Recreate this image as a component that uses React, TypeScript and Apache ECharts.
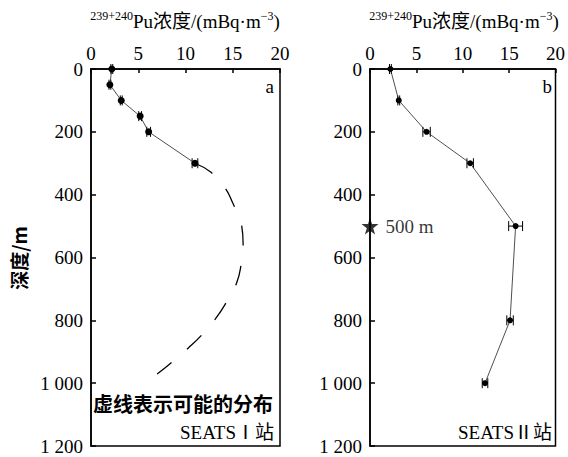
import React, { useEffect, useRef } from "react";
import * as echarts from "echarts";

// Panel a (SEATS I)
const depthsA = [0, 50, 100, 150, 200, 300];
const concA = [2.2, 2.0, 3.2, 5.2, 6.1, 11.0];
const errA = [0.1, 0.1, 0.1, 0.15, 0.2, 0.3];
// Possible distribution (dashed) in panel a
const dashDepthA = [300, 329, 375, 433, 491, 560, 619, 682, 741, 794, 844, 888, 932, 971];
const dashConcA = [11.0, 12.7, 14.1, 15.1, 15.9, 16.1, 15.9, 15.4, 14.35, 13.2, 11.8, 10.3, 8.6, 7.0];

// Panel b (SEATS II)
const depthsB = [0, 100, 200, 300, 500, 800, 1000];
const concB = [2.2, 3.1, 6.1, 10.8, 15.7, 15.1, 12.4];
const errB = [0.1, 0.1, 0.4, 0.35, 0.75, 0.35, 0.3];

const starDepth = 500;
const xTicks = [0, 5, 10, 15, 20];
const yTicks = [0, 200, 400, 600, 800, 1000, 1200];

const SERIF = "'Liberation Serif', 'Times New Roman', 'Noto Sans CJK SC', serif";
const CJK = "'Noto Sans CJK SC', sans-serif";

const STAR = "path://M50,0 L61,35 L98,35 L68,57 L79,91 L50,70 L21,91 L32,57 L2,35 L39,35 Z";

function fmtY(v: number) {
  if (v >= 1000) {
    const s = String(v);
    return s.slice(0, s.length - 3) + " " + s.slice(s.length - 3);
  }
  return String(v);
}

function errRender(params: any, api: any) {
  const x = api.value(0);
  const y = api.value(1);
  const e = api.value(2);
  const p1 = api.coord([x - e, y]);
  const p2 = api.coord([x + e, y]);
  const h = 5;
  const style = { stroke: "#000", lineWidth: 1 };
  return {
    type: "group",
    children: [
      { type: "line", shape: { x1: p1[0], y1: p1[1], x2: p2[0], y2: p2[1] }, style },
      { type: "line", shape: { x1: p1[0], y1: p1[1] - h, x2: p1[0], y2: p1[1] + h }, style },
      { type: "line", shape: { x1: p2[0], y1: p2[1] - h, x2: p2[0], y2: p2[1] + h }, style },
    ],
  };
}

export default function App() {
  const ref = useRef<HTMLDivElement>(null);
  useEffect(() => {
    if (!ref.current) return;
    const chart = echarts.init(ref.current, null, { renderer: "svg" });
    const xAxisBase = (gridIndex: number) => ({
      type: "value",
      gridIndex,
      position: "top",
      min: xTicks[0],
      max: xTicks[xTicks.length - 1],
      interval: 5,
      axisLine: { show: true, lineStyle: { color: "#000", width: 1.5 } },
      axisTick: { show: true, inside: true, length: 4, lineStyle: { color: "#000", width: 1.5 } },
      axisLabel: { color: "#000", fontSize: 19, fontFamily: SERIF, margin: 6 },
      splitLine: { show: false },
    });
    const yAxisBase = (gridIndex: number) => ({
      type: "value",
      gridIndex,
      inverse: true,
      min: yTicks[0],
      max: yTicks[yTicks.length - 1],
      interval: 200,
      axisLine: { show: true, lineStyle: { color: "#000", width: 1.5 } },
      axisTick: { show: true, inside: true, length: 5, lineStyle: { color: "#000", width: 1.5 } },
      axisLabel: { color: "#000", fontSize: 19, fontFamily: SERIF, margin: 8, formatter: fmtY },
      splitLine: { show: false },
    });
    const titleRich = {
      sup: { fontSize: 12, fontFamily: SERIF, verticalAlign: "top", lineHeight: 22, padding: [0, 0, 8, 0] },
      n: { fontSize: 19, fontFamily: SERIF, lineHeight: 22 },
    };
    const titleText = "{sup|239+240}{n|Pu浓度/(mBq·m}{sup|−3}{n|)}";
    chart.setOption({
      animation: false,
      backgroundColor: "#fff",
      grid: [
        { left: 91, top: 69, width: 189, height: 377, show: true, borderColor: "#000", borderWidth: 1.5, backgroundColor: "transparent" },
        { left: 370, top: 69, width: 189, height: 377, show: true, borderColor: "#000", borderWidth: 1.5, backgroundColor: "transparent" },
      ],
      xAxis: [xAxisBase(0), xAxisBase(1)],
      yAxis: [yAxisBase(0), yAxisBase(1)],
      series: [
        {
          type: "line",
          xAxisIndex: 0,
          yAxisIndex: 0,
          data: dashDepthA.map((d, i) => [dashConcA[i], d]),
          smooth: true,
          showSymbol: false,
          symbol: "none",
          lineStyle: { color: "#000", width: 1.3, type: [20, 20.5] },
          z: 1,
        },
        {
          type: "line",
          xAxisIndex: 0,
          yAxisIndex: 0,
          data: depthsA.map((d, i) => [concA[i], d]),
          symbol: "circle",
          symbolSize: 7,
          itemStyle: { color: "#000" },
          lineStyle: { color: "#222", width: 0.8 },
          z: 3,
        },
        {
          type: "custom",
          xAxisIndex: 0,
          yAxisIndex: 0,
          renderItem: errRender,
          data: depthsA.map((d, i) => [concA[i], d, errA[i]]),
          encode: { x: 0, y: 1 },
          z: 2,
        },
        {
          type: "line",
          xAxisIndex: 1,
          yAxisIndex: 1,
          data: depthsB.map((d, i) => [concB[i], d]),
          symbol: "circle",
          symbolSize: 6,
          itemStyle: { color: "#000" },
          lineStyle: { color: "#222", width: 0.8 },
          z: 3,
        },
        {
          type: "custom",
          xAxisIndex: 1,
          yAxisIndex: 1,
          renderItem: errRender,
          data: depthsB.map((d, i) => [concB[i], d, errB[i]]),
          encode: { x: 0, y: 1 },
          z: 2,
        },
        {
          type: "scatter",
          xAxisIndex: 1,
          yAxisIndex: 1,
          data: [[0, starDepth]],
          symbol: STAR,
          symbolSize: 17,
          clip: false,
          itemStyle: { color: "#000" },
          label: {
            show: true,
            position: "right",
            distance: 7,
            formatter: starDepth + " m",
            color: "#000",
            fontSize: 19,
            fontFamily: SERIF,
          },
          z: 5,
        },
      ],
      graphic: [
        { type: "text", x: 185, y: 21, style: { text: titleText, rich: titleRich, fill: "#000", align: "center", verticalAlign: "middle" } },
        { type: "text", x: 464, y: 21, style: { text: titleText, rich: titleRich, fill: "#000", align: "center", verticalAlign: "middle" } },
        { type: "text", x: 18, y: 258, rotation: Math.PI / 2, style: { text: "深度/m", fill: "#000", fontSize: 19, fontFamily: CJK, fontWeight: "bold", align: "center", verticalAlign: "middle" } },
        { type: "text", x: 274, y: 86, style: { text: "a", fill: "#000", fontSize: 19, fontFamily: SERIF, align: "right", verticalAlign: "middle" } },
        { type: "text", x: 552, y: 86, style: { text: "b", fill: "#000", fontSize: 19, fontFamily: SERIF, align: "right", verticalAlign: "middle" } },
        { type: "text", x: 273, y: 403, style: { text: "虚线表示可能的分布", fill: "#000", fontSize: 20, fontFamily: CJK, fontWeight: "bold", align: "right", verticalAlign: "middle" } },
        { type: "text", x: 274, y: 432, style: { text: "SEATSⅠ站", fill: "#000", fontSize: 19, fontFamily: SERIF, align: "right", verticalAlign: "middle" } },
        { type: "text", x: 552, y: 432, style: { text: "SEATSⅡ站", fill: "#000", fontSize: 19, fontFamily: SERIF, align: "right", verticalAlign: "middle" } },
      ],
    });
    return () => chart.dispose();
  }, []);
  return <div ref={ref} style={{ width: 568, height: 457, position: "absolute", left: 0, top: 0 }} />;
}
